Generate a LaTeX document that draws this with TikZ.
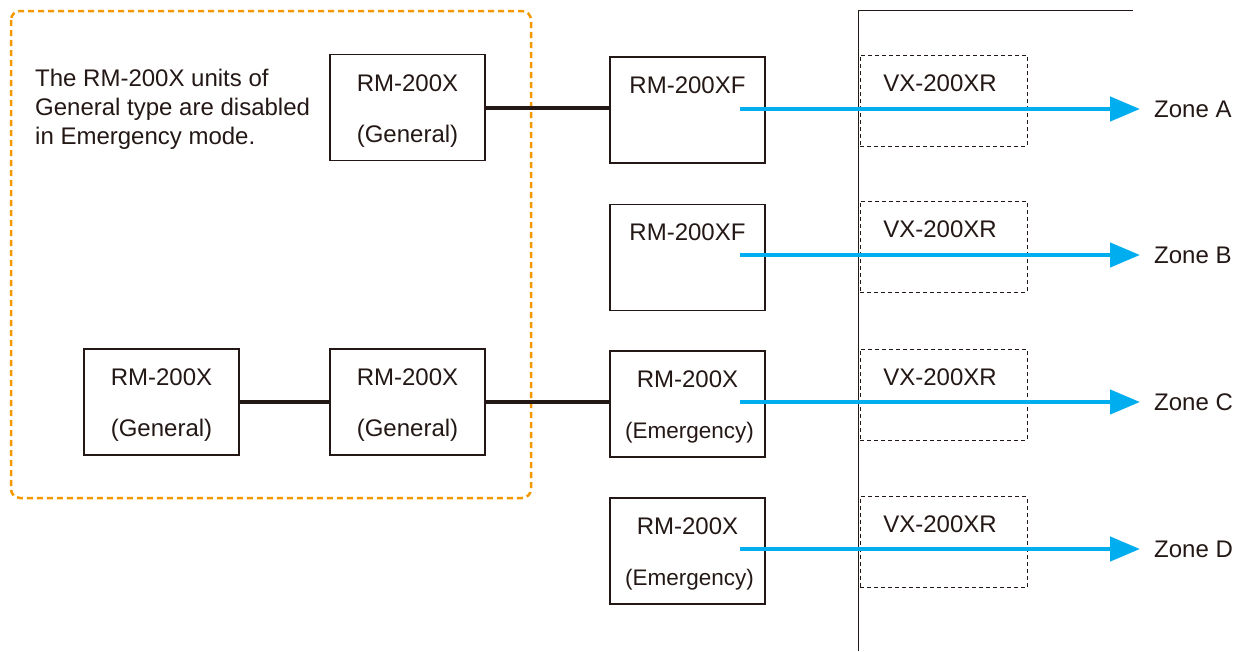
\documentclass[tikz,border=0pt]{standalone}
\usepackage{fontspec}
\setmainfont{Liberation Sans}
\usetikzlibrary{arrows.meta}
\definecolor{grporange}{RGB}{243,152,0}
\definecolor{arrblue}{RGB}{0,174,239}
\definecolor{txtgray}{RGB}{35,24,21}
\begin{document}
\begin{tikzpicture}[x=1pt,y=-1pt,
  every node/.style={font=\fontsize{24}{29}\selectfont, text=txtgray},
  unitbox/.style={draw=txtgray, line width=1.8pt, minimum width=155pt, minimum height=106pt, inner sep=0pt},
  vxbox/.style={draw=txtgray, line width=0.9pt, dash pattern=on 4pt off 3pt, minimum width=167pt, minimum height=91pt, inner sep=0pt},
  lbl/.style={anchor=base, inner sep=0pt},
  lblw/.style={anchor=base west, inner sep=0pt},
  conn/.style={draw=txtgray, line width=3.5pt},
  sig/.style={draw=arrblue, line width=4.5pt, -{Triangle[length=30pt,width=24pt]}, shorten >=14pt},
  grp/.style={draw=grporange, line width=2.5pt, dash pattern=on 6pt off 4pt, rounded corners=9pt}
]
\useasboundingbox (0,0) rectangle (1243,651);

% group outline
\draw[grp] (11,11) rectangle (531,498);

% note
\node[lblw] (n1) at (35,86.5) {The RM-200X units of};
\node[lblw] (n2) at (35,115.5) {General type are disabled};
\node[lblw] (n3) at (35,144.5) {in Emergency mode.};

% rack line
\coordinate (rb) at (858,651);
\coordinate (rt) at (858,10);
\coordinate (rr) at (1133,10);
\draw[draw=txtgray, line width=1pt] (rb) -- (rt) -- (rr);

% unit boxes
\node[unitbox] (g1) at (407.5,107.5) {};
\node[lbl] (g1a) at (407.5,91) {RM-200X};
\node[lbl] (g1b) at (407.5,142) {(General)};

\node[unitbox] (fA) at (687.5,110) {};
\node[lbl] (fAa) at (687.5,93) {RM-200XF};

\node[unitbox] (fB) at (687.5,257.5) {};
\node[lbl] (fBa) at (687.5,240) {RM-200XF};

\node[unitbox] (g2) at (161.5,402) {};
\node[lbl] (g2a) at (161.5,385) {RM-200X};
\node[lbl] (g2b) at (161.5,436) {(General)};

\node[unitbox] (g3) at (407.5,402) {};
\node[lbl] (g3a) at (407.5,385) {RM-200X};
\node[lbl] (g3b) at (407.5,436) {(General)};

\node[unitbox] (eC) at (687.5,404) {};
\node[lbl] (eCa) at (687.5,387) {RM-200X};
\node[lbl, font=\fontsize{22.5}{27}\selectfont] (eCb) at (689.5,438) {(Emergency)};

\node[unitbox] (eD) at (687.5,551) {};
\node[lbl] (eDa) at (687.5,534) {RM-200X};
\node[lbl, font=\fontsize{22.5}{27}\selectfont] (eDb) at (689.5,585) {(Emergency)};

% VX boxes
\node[vxbox] (v1) at (943.5,100.5) {};
\node[lbl] (v1a) at (940,91) {VX-200XR};
\node[vxbox] (v2) at (943.5,246.5) {};
\node[lbl] (v2a) at (940,237) {VX-200XR};
\node[vxbox] (v3) at (943.5,394.5) {};
\node[lbl] (v3a) at (940,385) {VX-200XR};
\node[vxbox] (v4) at (943.5,542) {};
\node[lbl] (v4a) at (940,532) {VX-200XR};

% zone labels
\node[lblw] (zA) at (1154,117.6) {Zone A};
\node[lblw] (zB) at (1154,263.6) {Zone B};
\node[lblw] (zC) at (1154,410.6) {Zone C};
\node[lblw] (zD) at (1154,557.6) {Zone D};

% wiring
\draw[conn] (g1.east |- 0,108) -- (fA.west |- 0,108);
\draw[conn] (g2.east) -- (g3.west);
\draw[conn] (g3.east) -- (g3.east -| eC.west);

% signal arrows
\coordinate (sA) at (740,109);
\coordinate (sB) at (740,255);
\coordinate (sC) at (740,402);
\coordinate (sD) at (740,549);
\draw[sig] (sA) -- (sA -| zA.west);
\draw[sig] (sB) -- (sB -| zB.west);
\draw[sig] (sC) -- (sC -| zC.west);
\draw[sig] (sD) -- (sD -| zD.west);
\end{tikzpicture}
\end{document}
